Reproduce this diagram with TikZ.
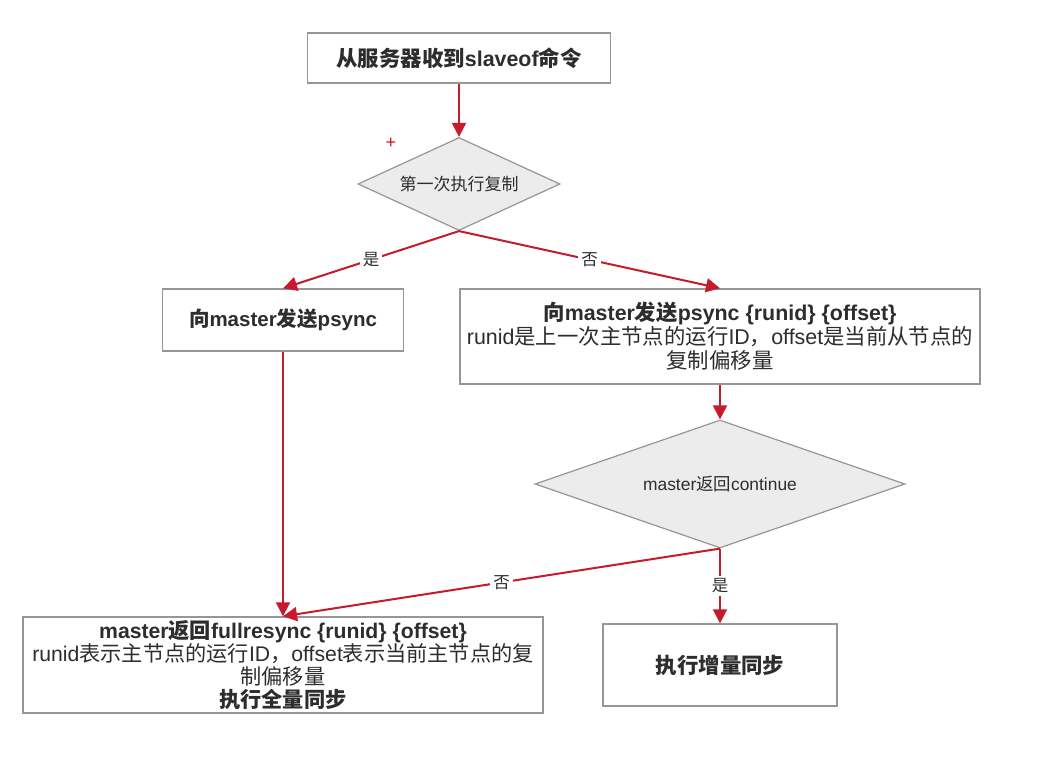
\documentclass[tikz,border=0pt]{standalone}
\usepackage{fontspec}
\setmainfont{Liberation Sans}
\newfontfamily\zhfont{Noto Sans CJK SC}
\newcommand\zh[1]{{\zhfont #1}}
\usetikzlibrary{shapes.geometric,arrows.meta}
\definecolor{flowred}{RGB}{200,25,45}
\definecolor{boxgray}{RGB}{150,150,150}
\definecolor{dfill}{RGB}{236,236,236}
\definecolor{txt}{RGB}{45,45,45}
\tikzset{
 box/.style={draw=boxgray, line width=1.4pt, fill=white, inner sep=0pt, align=center, text=txt},
 dec/.style={diamond, draw=boxgray, line width=1.2pt, fill=dfill, inner sep=0pt, text=txt},
 flow/.style={draw=flowred, line width=2pt, -{Triangle[length=14pt,width=14pt]}},
 lbl/.style={fill=white, inner sep=3pt, font=\fontsize{16.5}{19}\selectfont, text=txt},
}
\begin{document}
\begin{tikzpicture}[x=1pt,y=-1pt]
\useasboundingbox (0,0) rectangle (1042,762);
\fill[white] (0,0) rectangle (1042,762);
\node[box, minimum width=303pt, minimum height=50pt, font=\bfseries\fontsize{21.4}{25}\selectfont] (start) at (459,58) {\zh{从服务器收到}slaveof\zh{命令}};
\node[dec, minimum width=202pt, minimum height=93pt, aspect=2.17, font=\fontsize{17}{20}\selectfont] (first) at (459,184) {\zh{第一次执行复制}};
\node[text=flowred, font=\fontsize{18}{18}\selectfont] (plus) at (391,143) {+};
\node[box, minimum width=241pt, minimum height=62pt, font=\bfseries\fontsize{20.5}{24}\selectfont] (ps) at (283,320) {\zh{向}master\zh{发送}psync};
\node[box, minimum width=520pt, minimum height=95pt, font=\fontsize{21.4}{24}\selectfont] (psr) at (720,336.5) {\textbf{\zh{向}master\zh{发送}psync \{runid\} \{offset\}}\\ runid\zh{是上一次主节点的运行}ID\zh{，}offset\zh{是当前从节点的}\\ \zh{复制偏移量}};
\node[dec, minimum width=370pt, minimum height=128pt, aspect=2.9, font=\fontsize{17.4}{20}\selectfont] (cont) at (720,484) {master\zh{返回}continue};
\node[box, minimum width=520pt, minimum height=96pt, font=\fontsize{21.2}{23}\selectfont] (full) at (283,665) {\textbf{master\zh{返回}fullresync \{runid\} \{offset\}}\\ runid\zh{表示主节点的运行}ID\zh{，}offset\zh{表示当前主节点的复}\\ \zh{制偏移量}\\ \textbf{\zh{执行全量同步}}};
\node[box, minimum width=234pt, minimum height=82pt, font=\bfseries\fontsize{21.4}{25}\selectfont] (inc) at (720,665) {\zh{执行增量同步}};
\draw[flow] (start.south) -- (first.north);
\draw[flow] (first.south) -- node[lbl]{\zh{是}} (ps.north);
\draw[flow] (first.south) -- node[lbl]{\zh{否}} (psr.north);
\draw[flow] (psr.south) -- (cont.north);
\draw[flow] (ps.south) -- (ps.south |- full.north);
\draw[flow] (cont.south) -- node[lbl]{\zh{否}} (ps.south |- full.north);
\draw[flow] (cont.south) -- node[lbl]{\zh{是}} (inc.north);
\end{tikzpicture}
\end{document}
